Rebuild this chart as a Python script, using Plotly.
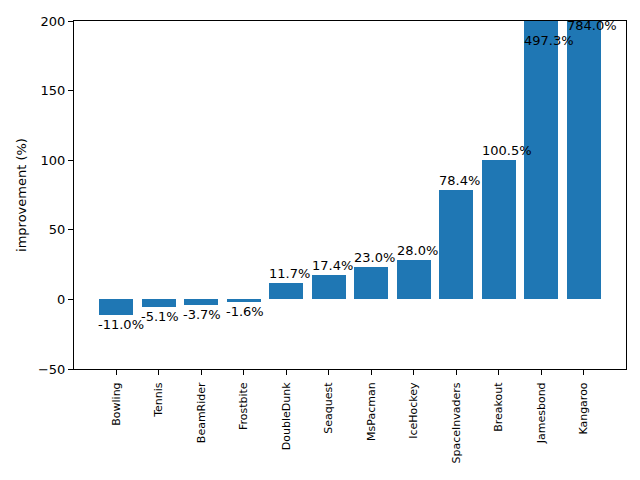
import plotly.graph_objects as go

games = ['Bowling', 'Tennis', 'BeamRider', 'Frostbite', 'DoubleDunk', 'Seaquest',
         'MsPacman', 'IceHockey', 'SpaceInvaders', 'Breakout', 'Jamesbond', 'Kangaroo']
improvement = [-11.0, -5.1, -3.7, -1.6, 11.7, 17.4, 23.0, 28.0, 78.4, 100.5, 497.3, 784.0]
y_ticks = [-50, 0, 50, 100, 150, 200]

# labels of the off-scale bars sit inside the plot
label_y = {'Jamesbond': 179, 'Kangaroo': 190}

xs = list(range(len(games)))

fig = go.Figure(go.Bar(
    x=xs,
    y=improvement,
    width=0.8,
    marker=dict(color='#1f77b4', line=dict(width=0)),
    cliponaxis=True,
))

for i, (g, v) in enumerate(zip(games, improvement)):
    yy = label_y.get(g, v)
    fig.add_annotation(
        x=i - 0.4, y=yy, xref='x', yref='y',
        text=f'{v:.1f}%', showarrow=False,
        xanchor='left', yanchor='bottom' if v >= 0 else 'top',
        xshift=-2 if v >= 0 else -3,
        font=dict(size=13, color='black'),
    )

# page body adds an 8px offset, so the figure is a bit smaller than the window
fig.update_layout(
    width=632, height=472,
    margin=dict(l=66, r=14, t=13, b=111),
    plot_bgcolor='white', paper_bgcolor='white',
    font=dict(family='DejaVu Sans', size=13, color='black'),
    showlegend=False,
    bargap=0,
)
fig.update_xaxes(
    range=[-0.99, 11.99], automargin=False,
    tickmode='array', tickvals=xs, ticktext=games,
    tickangle=-90, tickfont=dict(size=11), ticklabelstandoff=3,
    ticks='outside', ticklen=5, tickcolor='black',
    showline=True, linecolor='black', linewidth=1, mirror=True,
    showgrid=False, zeroline=False,
)
fig.update_yaxes(
    range=[-50, 200], automargin=False,
    tickmode='array', tickvals=y_ticks,
    ticks='outside', ticklen=5, tickcolor='black',
    showline=True, linecolor='black', linewidth=1, mirror=True,
    showgrid=False, zeroline=False,
    title=dict(text='improvement (%)', font=dict(size=13), standoff=8),
)

fig.write_html('out.html')
